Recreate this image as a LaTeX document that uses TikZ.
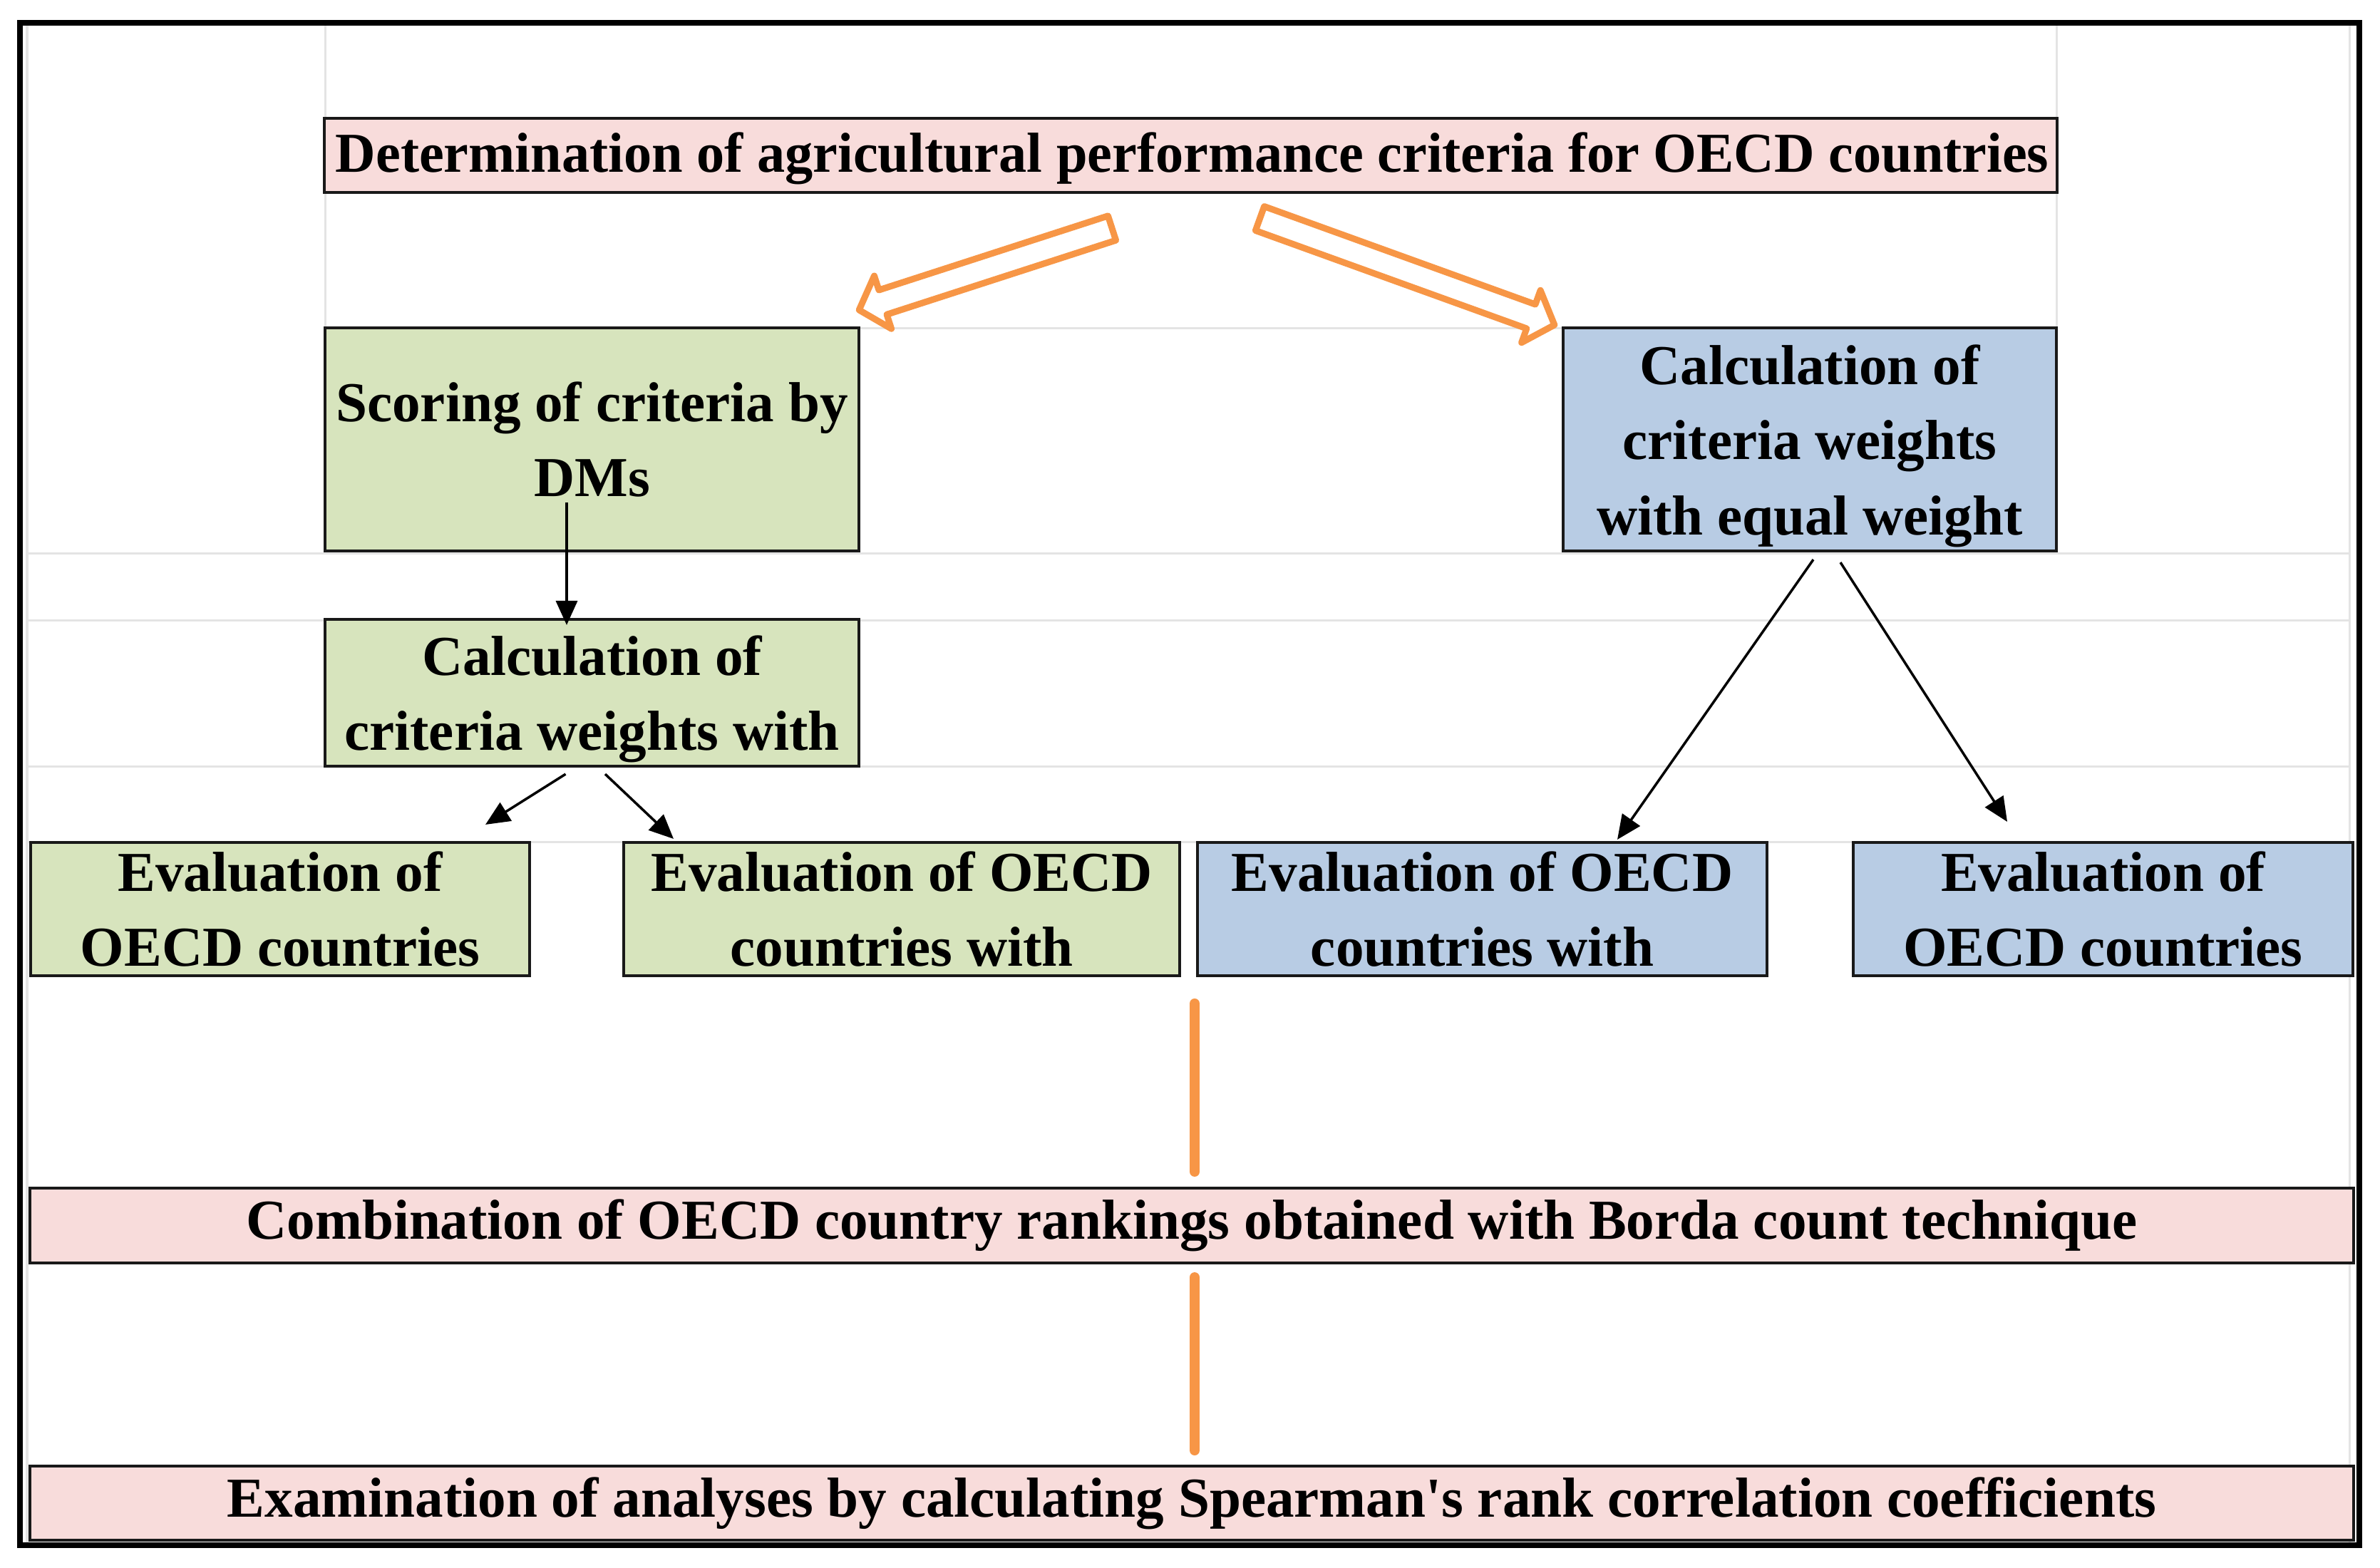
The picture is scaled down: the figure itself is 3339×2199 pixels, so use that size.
\documentclass[tikz,border=0pt]{standalone}
\usepackage{fontspec}
\setmainfont{Liberation Serif}
\usetikzlibrary{calc,arrows.meta}
\definecolor{pinkF}{HTML}{F8DCDB}
\definecolor{greenF}{HTML}{D7E4BD}
\definecolor{blueF}{HTML}{B8CCE4}
\definecolor{orangeC}{HTML}{F79646}
\definecolor{gridC}{HTML}{E4E4E4}
\newcommand{\zl}[1]{\makebox[0pt][c]{#1}}
\newcommand{\blockarr}[2]{%
  \coordinate (hb) at ($(#2)!0.35cm!(#1)$);
  \draw[barrow] ($(#1)!0.18cm!90:(#2)$) -- ($(hb)!0.18cm!90:(#2)$) -- ($(hb)!0.39cm!90:(#2)$) -- (#2)
     -- ($(hb)!0.39cm!-90:(#2)$) -- ($(hb)!0.18cm!-90:(#2)$) -- ($(#1)!0.18cm!-90:(#2)$) -- cycle;}
\begin{document}
\begin{tikzpicture}[x=0.01cm,y=-0.01cm,
  txt/.style={inner sep=0pt, align=center, font=\fontsize{22.5}{30}\selectfont\bfseries},
  box/.style={txt, draw=black!90, line width=0.04cm},
  gridln/.style={draw=gridC, line width=0.03cm},
  conn/.style={-{Triangle[length=0.34cm,width=0.3cm]}, line width=0.035cm},
  oline/.style={draw=orangeC, line width=0.14cm, line cap=round},
  barrow/.style={draw=orangeC, fill=white, line width=0.09cm, line join=round}]
\useasboundingbox (0,0) rectangle (3339,2199);
\fill[white] (0,0) rectangle (3339,2199);

% spreadsheet grid lines
\draw[gridln] (38,36) -- (38,2165);
\draw[gridln] (3296,36) -- (3296,2165);
\draw[gridln] (456,36) -- (456,460);
\draw[gridln] (2885,36) -- (2885,460);
\draw[gridln] (1205,460) -- (2193,460);
\draw[gridln] (38,776) -- (3296,776);
\draw[gridln] (38,870) -- (3296,870);
\draw[gridln] (38,1075) -- (3296,1075);
\draw[gridln] (38,1181) -- (3296,1181);

% frame
\draw[line width=0.075cm] (28,32) rectangle (3310,2168);

% boxes
\node[box, fill=pinkF, minimum width=24.29cm, minimum height=1.04cm] (top) at (1670.5,218) {};
\node[txt] (topt) at ($(top.center)+(2,4)$)
  {\zl{\scalebox{0.99}[1]{Determination of agricultural performance criteria for OECD countries}}};
\node[box, fill=greenF, minimum width=7.49cm, minimum height=3.13cm] (g1) at (830.5,616.5)
  {\zl{Scoring of criteria by}\\\zl{DMs}};
\node[box, fill=blueF, minimum width=6.92cm, minimum height=3.13cm] (b1) at (2539,616.5) {};
\node[txt] (b1t) at ($(b1.center)+(0,9)$)
  {\zl{Calculation of}\\\zl{criteria weights}\\\zl{with equal weight}};
\node[box, fill=greenF, minimum width=7.49cm, minimum height=2.06cm] (g2) at (830.5,972) {};
\node[txt] (g2t) at ($(g2.center)+(0,9)$)
  {\zl{Calculation of}\\\zl{criteria weights with}};
\node[box, fill=greenF, minimum width=7.00cm, minimum height=1.87cm] (ev1) at (393,1275.5)
  {\zl{Evaluation of}\\\zl{OECD countries}};
\node[box, fill=greenF, minimum width=7.80cm, minimum height=1.87cm] (ev2) at (1265,1275.5)
  {\zl{Evaluation of OECD}\\\zl{countries with}};
\node[box, fill=blueF, minimum width=7.99cm, minimum height=1.87cm] (ev3) at (2079.5,1275.5)
  {\zl{Evaluation of OECD}\\\zl{countries with}};
\node[box, fill=blueF, minimum width=7.01cm, minimum height=1.87cm] (ev4) at (2950.5,1275.5)
  {\zl{Evaluation of}\\\zl{OECD countries}};
\node[box, fill=pinkF, minimum width=32.58cm, minimum height=1.05cm] (comb) at (1672,1719.5)
  {\zl{Combination of OECD country rankings obtained with Borda count technique}};
\node[box, fill=pinkF, minimum width=32.58cm, minimum height=1.04cm] (exam) at (1672,2109)
  {\zl{Examination of analyses by calculating Spearman\textquotesingle s rank correlation coefficients}};

% orange block arrows
\coordinate (t1) at ($(top.south)+(-110.5,48)$);
\coordinate (p1) at ($(g1.north east)+(-2,-23)$);
\coordinate (t2) at ($(top.south)+(97,34.5)$);
\coordinate (p2) at ($(b1.north west)+(-10,-2)$);
\blockarr{t1}{p1}
\blockarr{t2}{p2}

% black connectors
\coordinate (a1s) at ($(g1.center)+(-35.5,88.5)$);
\draw[conn] (a1s) -- ([yshift=-0.1cm]a1s |- g2.north);
\coordinate (a2s) at ($(g2.south)+(-37,9)$);
\coordinate (a2e) at ($(ev1.north)+(288,-23)$);
\draw[conn] (a2s) -- (a2e);
\coordinate (a3s) at ($(g2.south)+(18.5,9)$);
\coordinate (a3e) at ($(ev2.north)+(-320,-3)$);
\draw[conn] (a3s) -- (a3e);
\coordinate (a4s) at ($(b1.south)+(5,10)$);
\coordinate (a4e) at ($(ev3.north)+(189.5,-2)$);
\draw[conn] (a4s) -- (a4e);
\coordinate (a5s) at ($(b1.south)+(43,14)$);
\coordinate (a5e) at ($(ev4.north)+(-134.5,-27)$);
\draw[conn] (a5s) -- (a5e);

% orange vertical links
\coordinate (o1s) at ($(comb.north)+(4,-257)$);
\draw[oline] (o1s) -- ($(comb.north)+(4,-21)$);
\coordinate (o2s) at ($(comb.south)+(4,18)$);
\draw[oline] (o2s) -- ($(exam.north)+(4,-20)$);
\end{tikzpicture}
\end{document}
